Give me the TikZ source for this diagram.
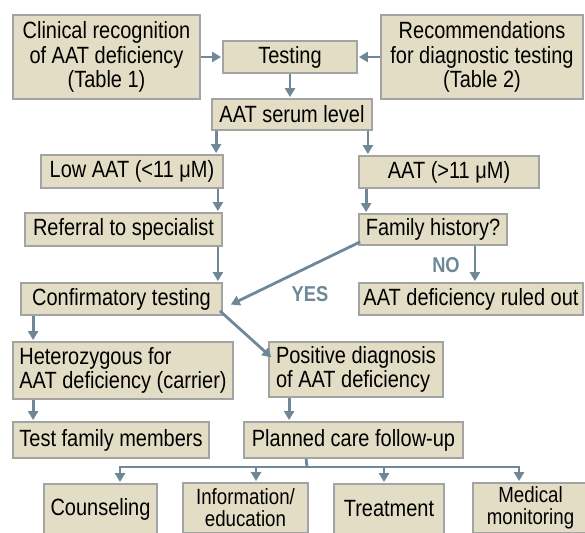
\documentclass[tikz,border=0pt]{standalone}
\usepackage{fontspec}
\setmainfont{Liberation Sans}[FakeStretch=0.85]
\usetikzlibrary{arrows.meta}
\definecolor{boxfill}{HTML}{E4DDC5}
\definecolor{boxline}{HTML}{A3A3A3}
\definecolor{arr}{HTML}{6E8898}
\begin{document}
\begin{tikzpicture}[x=1pt,y=-1pt,
 box/.style={draw=boxline, line width=1.8pt, fill=boxfill, inner sep=0pt, font=\fontsize{23.5}{24.5}\selectfont, text=black},
 tight/.style={font=\fontsize{22}{22}\selectfont},
 link/.style={draw=arr, line width=2.8pt, -{Triangle[width=10pt,length=9pt]}, shorten >=1pt},
 plain/.style={draw=arr, line width=2.8pt},
 lab/.style={text=arr, font=\fontsize{21.5}{22}\selectfont\bfseries}]
\useasboundingbox (0,0) rectangle (585,532);
\clip (0,0) rectangle (585,532);

\node[box, minimum width=187pt, minimum height=84pt, align=center] (clin) at (106.5,57) {Clinical recognition\\of AAT deficiency\\(Table 1)};
\node[box, minimum width=134pt, minimum height=32pt] (test) at (290,57) {Testing};
\node[box, minimum width=202pt, minimum height=84pt, align=center] (rec) at (482,57) {Recommendations\\for diagnostic testing\\(Table 2)};
\node[box, minimum width=160pt, minimum height=31pt] (serum) at (292,114.5) {AAT serum level};
\node[box, minimum width=182pt, minimum height=33pt] (low) at (132,171.5) {Low AAT (<11 μM)};
\node[box, minimum width=180pt, minimum height=32pt] (high) at (449,172) {AAT (>11 μM)};
\node[box, minimum width=197pt, minimum height=33pt] (ref) at (123.5,229.5) {Referral to specialist};
\node[box, minimum width=148pt, minimum height=31pt] (fam) at (433,229.5) {Family history?};
\node[box, minimum width=201pt, minimum height=32pt] (conf) at (121.5,299) {Confirmatory testing};
\node[box, minimum width=224pt, minimum height=32pt] (ruled) at (471,299) {AAT deficiency ruled out};
\node[box, minimum width=220pt, minimum height=57pt, align=left] (het) at (123,370.5) {Heterozygous for\\AAT deficiency (carrier)};
\node[box, minimum width=174pt, minimum height=55pt, align=left] (pos) at (356,369.5) {Positive diagnosis\\of AAT deficiency};
\node[box, minimum width=196pt, minimum height=36pt] (tfm) at (111,440) {Test family members};
\node[box, minimum width=219pt, minimum height=36pt] (plan) at (353.5,440) {Planned care follow-up};
\node[box, minimum width=113pt, minimum height=50pt] (coun) at (100.5,509) {Counseling};
\node[box, tight, minimum width=125pt, minimum height=50pt, align=center] (info) at (245.5,508) {Information/\\education};
\node[box, minimum width=110pt, minimum height=50pt] (treat) at (389,509) {Treatment};
\node[box, tight, minimum width=115pt, minimum height=50pt, align=center] (med) at (530.5,508) {Medical\\monitoring};

\node[lab] (yes) at (310,294) {YES};
\node[lab] (no) at (446,265) {NO};

\draw[link] (clin) -- (test);
\draw[link] (rec) -- (test);
\draw[link] (test.south) -- (test.south |- serum.north);
\draw[link] ([xshift=5pt]serum.south west) -- ([xshift=5pt]serum.south west |- low.north);
\draw[link] ([xshift=-5pt]serum.south east) -- ([xshift=-5pt]serum.south east |- high.north);
\draw[link] ([xshift=-6pt]low.south east) -- ([xshift=-6pt]low.south east |- ref.north);
\draw[link] ([xshift=8pt]high.south west) -- ([xshift=8pt]high.south west |- fam.north);
\draw[link] ([xshift=-5pt]ref.south east) -- ([xshift=-5pt]ref.south east |- conf.north);
\draw[link] ([xshift=2pt,yshift=4pt]fam.south west) -- ([xshift=7pt,yshift=-6pt]conf.east);
\draw[link] ([xshift=-33pt]fam.south east) -- ([xshift=-33pt]fam.south east |- ruled.north);
\draw[link] ([xshift=13pt]conf.south west) -- ([xshift=13pt]conf.south west |- het.north);
\draw[link] ([xshift=-3pt,yshift=5pt]conf.south east) -- ([xshift=4pt,yshift=11.5pt]pos.west);
\draw[link] ([xshift=21pt]het.south west) -- ([xshift=21pt]het.south west |- tfm.north);
\draw[link] ([xshift=21pt]pos.south west) -- ([xshift=21pt]pos.south west |- plan.north);

\coordinate (bus) at (307,467);
\coordinate (busL) at (120,467);
\coordinate (busR) at (519,467);
\draw[plain] ([xshift=63pt]plan.south west) -- (bus);
\draw[link] (bus) -| (busL |- coun.north);
\draw[link] (bus) -| (busR |- med.north);
\draw[link] ([xshift=10.5pt]info.north |- bus) -- ([xshift=10.5pt]info.north);
\draw[link] ([xshift=-5pt]treat.north |- bus) -- ([xshift=-5pt]treat.north);
\end{tikzpicture}
\end{document}
